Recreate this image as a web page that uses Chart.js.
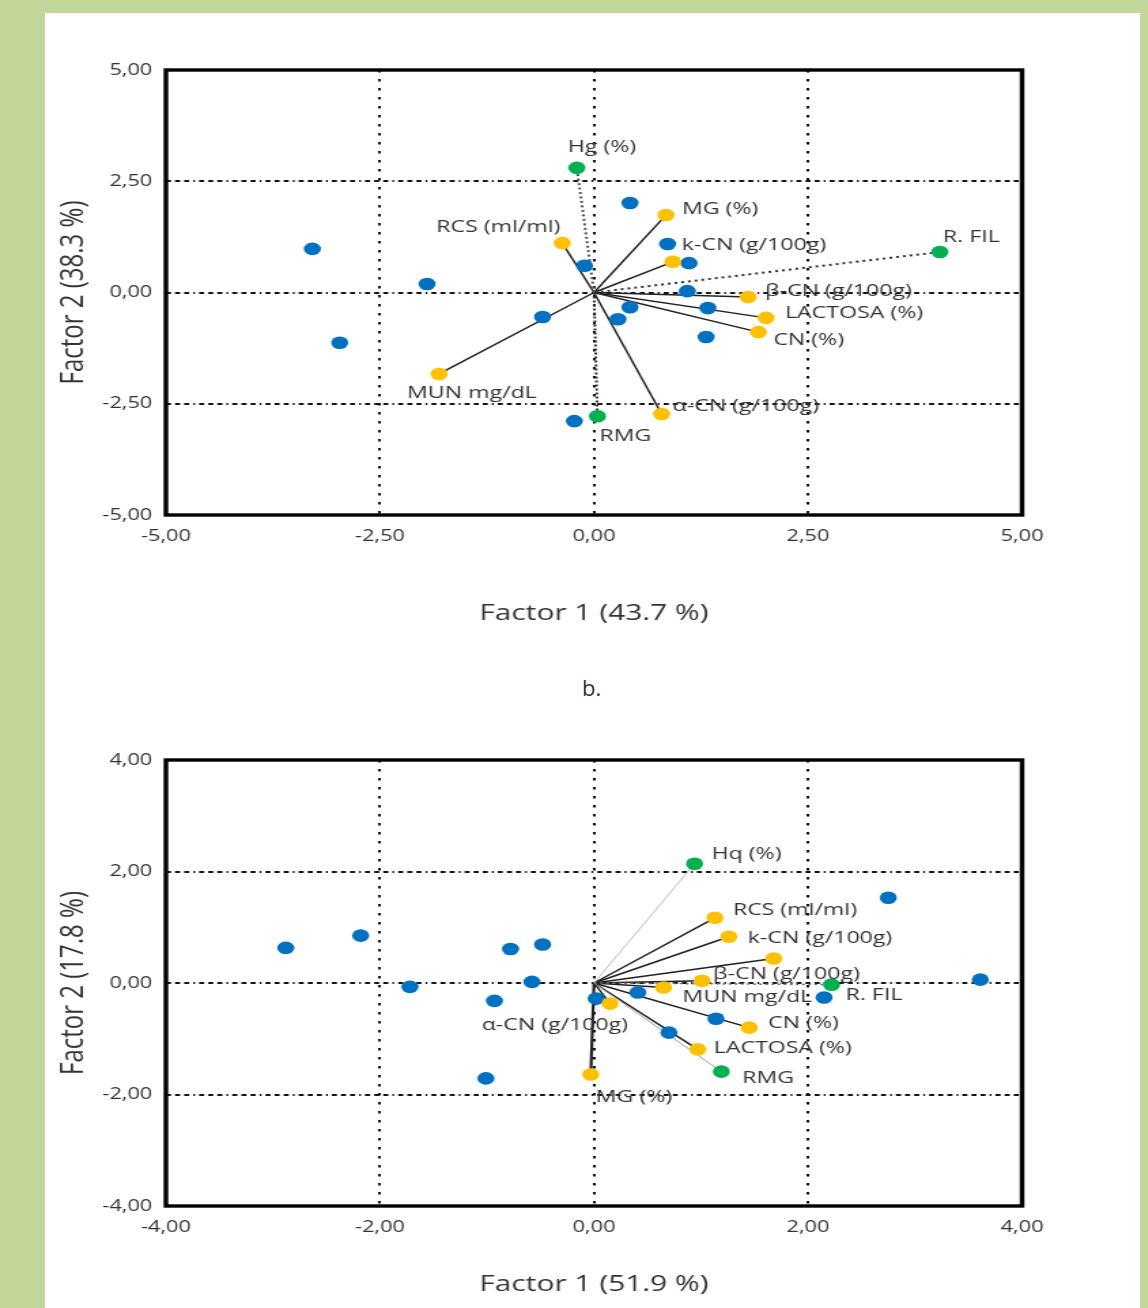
<!DOCTYPE html>
<html><head><meta charset="utf-8">
<script src="https://cdn.jsdelivr.net/npm/chart.js@4"></script>
<style>
html,body{margin:0;padding:0;}
body{width:1148px;height:1308px;background:#c4d79b;position:relative;overflow:hidden;font-family:'Open Sans',sans-serif;}
#panel{position:absolute;left:45px;top:13px;width:1095px;height:1295px;background:#fff;}
.wrap{position:absolute;left:0;transform:scaleX(1.36);transform-origin:0 0;}
#w1{top:0;} #w2{top:700px;}
#blabel{position:absolute;left:582px;top:672px;font-size:22px;line-height:30px;color:#333;}
</style></head><body>
<div id="panel"></div>
<div class="wrap" id="w1"><canvas id="c1" width="844" height="650"></canvas></div>
<div id="blabel">b.</div>
<div class="wrap" id="w2"><canvas id="c2" width="844" height="608"></canvas></div>
<script>
// ---------------- DATA: chart a (top) ----------------
const aXTicks = [-5, -2.5, 0, 2.5, 5];
const aXTickLabels = ['-5,00', '-2,50', '0,00', '2,50', '5,00'];
const aYTicks = [-5, -2.5, 0, 2.5, 5];
const aYTickLabels = ['-5,00', '-2,50', '0,00', '2,50', '5,00'];
const aXTitle = 'Factor 1 (43.7 %)';
const aYTitle = 'Factor 2 (38.3 %)';
const aObsX = [-3.29, -1.95, -2.97, -0.60, -0.11, 0.42, 0.86, 1.11, 1.09, 0.42, 0.28, 1.33, 1.31, -0.23];
const aObsY = [0.98, 0.19, -1.13, -0.55, 0.60, 2.01, 1.09, 0.66, 0.03, -0.33, -0.60, -0.35, -1.00, -2.89];
const aMilkNames = ['RCS (ml/ml)', 'MG (%)', 'k-CN (g/100g)', 'β-CN (g/100g)', 'LACTOSA (%)', 'CN (%)', 'α-CN (g/100g)', 'MUN mg/dL'];
const aMilkX = [-0.37, 0.84, 0.92, 1.80, 2.01, 1.92, 0.79, -1.81];
const aMilkY = [1.11, 1.74, 0.69, -0.10, -0.57, -0.89, -2.73, -1.83];
const aCheeseNames = ['Hg (%)', 'R. FIL', 'RMG'];
const aCheeseX = [-0.20, 4.04, 0.04];
const aCheeseY = [2.80, 0.91, -2.78];

// ---------------- DATA: chart b (bottom) ----------------
const bXTicks = [-4, -2, 0, 2, 4];
const bXTickLabels = ['-4,00', '-2,00', '0,00', '2,00', '4,00'];
const bYTicks = [-4, -2, 0, 2, 4];
const bYTickLabels = ['-4,00', '-2,00', '0,00', '2,00', '4,00'];
const bXTitle = 'Factor 1 (51.9 %)';
const bYTitle = 'Factor 2 (17.8 %)';
const bObsX = [-2.88, -2.18, -1.72, -0.78, -0.48, -0.58, -0.93, -1.01, 0.02, 0.41, 0.70, 1.14, 2.75, 2.15, 3.61];
const bObsY = [0.63, 0.85, -0.07, 0.61, 0.69, 0.02, -0.32, -1.71, -0.28, -0.17, -0.89, -0.64, 1.53, -0.26, 0.06];
const bMilkNames = ['RCS (ml/ml)', 'k-CN (g/100g)', '', 'β-CN (g/100g)', 'MUN mg/dL', 'α-CN (g/100g)', 'CN (%)', 'LACTOSA (%)', 'MG (%)'];
const bMilkX = [1.13, 1.26, 1.68, 1.01, 0.65, 0.15, 1.45, 0.97, -0.03];
const bMilkY = [1.17, 0.83, 0.44, 0.04, -0.08, -0.37, -0.80, -1.19, -1.64];
const bCheeseNames = ['Hq (%)', 'R. FIL', 'RMG'];
const bCheeseX = [0.94, 2.22, 1.19];
const bCheeseY = [2.14, -0.03, -1.59];

// ---------------- STYLE / PLACEMENT ----------------
const S = 1.36; // horizontal stretch of the canvases
const BLUE = '#0070c0', YELLOW = '#ffc000', GREEN = '#00b050', TXT = '#333333';
// label offsets in page px [dx, dy, align]
const aMilkLabelPos = [[-2,-16,'right'],[16,-6],[9,-17],[17,-6],[19,-5],[15,8],[11,-8],[-32,19]];
const aCheeseLabelPos = [[-9,-21],[3,-15],[2,20]];
const aCheeseLine = [
  {color:'#505050', width:2, dash:[2,2.5]},
  {color:'#303030', width:2, dash:[2,3]},
  {color:'#303030', width:2, dash:[2,2]}
];
const bMilkLabelPos = [[18,-8],[19,1],[0,0],[11,-7],[19,10],[18,22,'right'],[19,-4],[16,-1],[5,23]];
const bCheeseLabelPos = [[17,-10],[14,10],[21,7]];
const bCheeseLine = [
  {color:'#bdbdbd', width:1, dash:[]},
  {color:'#707070', width:1.5, dash:[2,2.5]},
  {color:'#9a9a9a', width:1, dash:[]}
];

function pts(xs, ys){ return xs.map((v,i)=>({x:v, y:ys[i]})); }

function makeChart(id, cfg){
  const datasets = [];
  cfg.milkX.forEach((v,i)=>{
    datasets.push({data:[{x:0,y:0},{x:v,y:cfg.milkY[i]}], showLine:true, borderColor:'#222',
      borderWidth: (cfg.thick && cfg.thick.includes(i)) ? 2.2 : 1.5, pointRadius:0, order:3});
  });
  cfg.cheeseX.forEach((v,i)=>{
    const st = cfg.cheeseLine[i];
    datasets.push({data:[{x:0,y:0},{x:v,y:cfg.cheeseY[i]}], showLine:true, borderColor:st.color,
      borderWidth:st.width, borderDash:st.dash, pointRadius:0, order:2});
  });
  datasets.push({data:pts(cfg.obsX,cfg.obsY), backgroundColor:BLUE, borderWidth:0, pointRadius:6.3, order:1});
  datasets.push({data:pts(cfg.milkX,cfg.milkY), backgroundColor:YELLOW, borderWidth:0, pointRadius:6.3, order:0});
  datasets.push({data:pts(cfg.cheeseX,cfg.cheeseY), backgroundColor:GREEN, borderWidth:0, pointRadius:6.3, order:0});

  const items = [];
  cfg.milkNames.forEach((n,i)=>{ const p=cfg.milkPos[i]; items.push({text:n,x:cfg.milkX[i],y:cfg.milkY[i],dx:p[0],dy:p[1],align:p[2]||'left'}); });
  cfg.cheeseNames.forEach((n,i)=>{ const p=cfg.cheesePos[i]; items.push({text:n,x:cfg.cheeseX[i],y:cfg.cheeseY[i],dx:p[0],dy:p[1],align:p[2]||'left'}); });

  const decor = {
    id:'decor'+id,
    afterDatasetsDraw(chart){
      const {ctx, chartArea:a, scales:{x,y}} = chart;
      ctx.save();
      ctx.strokeStyle = '#000';
      ctx.lineWidth = 3.4;
      ctx.strokeRect(a.left, a.top, a.right-a.left, a.bottom-a.top);
      ctx.font = '17px "Open Sans"';
      ctx.fillStyle = TXT;
      ctx.textBaseline = 'middle';
      items.forEach(it=>{
        if(!it.text) return;
        ctx.textAlign = it.align;
        ctx.fillText(it.text, x.getPixelForValue(it.x) + it.dx/S, y.getPixelForValue(it.y) + it.dy);
      });
      ctx.restore();
    }
  };
  const gridColor = (min,max)=> (c)=> (c.tick && (c.tick.value===min || c.tick.value===max)) ? 'rgba(0,0,0,0)' : '#111';
  const xmin = cfg.xTicks[0], xmax = cfg.xTicks[cfg.xTicks.length-1];
  const ymin = cfg.yTicks[0], ymax = cfg.yTicks[cfg.yTicks.length-1];

  return new Chart(document.getElementById(id), {
    type:'scatter',
    data:{datasets},
    plugins:[decor],
    options:{
      responsive:false, animation:false, devicePixelRatio:1,
      layout:{padding:cfg.padding},
      plugins:{legend:{display:false}, tooltip:{enabled:false}},
      scales:{
        x:{type:'linear', position:'bottom', min:xmin, max:xmax,
          afterBuildTicks:s=>{ s.ticks = cfg.xTicks.map(v=>({value:v})); },
          afterFit:s=>{ s.height = cfg.xH; },
          ticks:{padding:cfg.xTickPad, color:TXT, font:{family:'Open Sans', size:16}, maxRotation:0,
            callback:(v,i)=>cfg.xTickLabels[i]},
          grid:{drawTicks:false, lineWidth:2, color:gridColor(xmin,xmax)},
          border:{display:false, dash:[2.5,6.5]},
          title:{display:true, text:cfg.xTitle, color:TXT, font:{family:'Open Sans', size:22}, padding:{top:0,bottom:cfg.xTitlePad}}
        },
        y:{type:'linear', position:'left', min:ymin, max:ymax,
          afterBuildTicks:s=>{ s.ticks = cfg.yTicks.map(v=>({value:v})); },
          afterFit:s=>{ s.width = cfg.yW; },
          ticks:{padding:10, color:TXT, font:{family:'Open Sans', size:16},
            callback:(v,i)=>cfg.yTickLabels[i]},
          grid:{drawTicks:false, lineWidth:2, color:gridColor(ymin,ymax)},
          border:{display:false, dash:[3.7,3,3.7,3,3.7,3,1.3,3]},
          title:{display:true, text:cfg.yTitle, color:TXT, font:{family:'Open Sans', size:24}, padding:{top:10,bottom:0}}
        }
      }
    }
  });
}

makeChart('c1', {
  xTicks:aXTicks, xTickLabels:aXTickLabels, yTicks:aYTicks, yTickLabels:aYTickLabels,
  xTitle:aXTitle, yTitle:aYTitle, obsX:aObsX, obsY:aObsY,
  milkNames:aMilkNames, milkX:aMilkX, milkY:aMilkY, milkPos:aMilkLabelPos,
  cheeseNames:aCheeseNames, cheeseX:aCheeseX, cheeseY:aCheeseY, cheesePos:aCheeseLabelPos, cheeseLine:aCheeseLine,
  padding:{left:30, top:70, right:92.5, bottom:10}, yW:92, xH:125, xTickPad:12, xTitlePad:13
});
makeChart('c2', {
  xTicks:bXTicks, xTickLabels:bXTickLabels, yTicks:bYTicks, yTickLabels:bYTickLabels,
  xTitle:bXTitle, yTitle:bYTitle, obsX:bObsX, obsY:bObsY,
  milkNames:bMilkNames, milkX:bMilkX, milkY:bMilkY, milkPos:bMilkLabelPos,
  cheeseNames:bCheeseNames, cheeseX:bCheeseX, cheeseY:bCheeseY, cheesePos:bCheeseLabelPos, cheeseLine:bCheeseLine,
  thick:[8],
  padding:{left:30, top:60, right:92.5, bottom:10}, yW:92, xH:92, xTickPad:12, xTitlePad:0
});
</script>
</body></html>
